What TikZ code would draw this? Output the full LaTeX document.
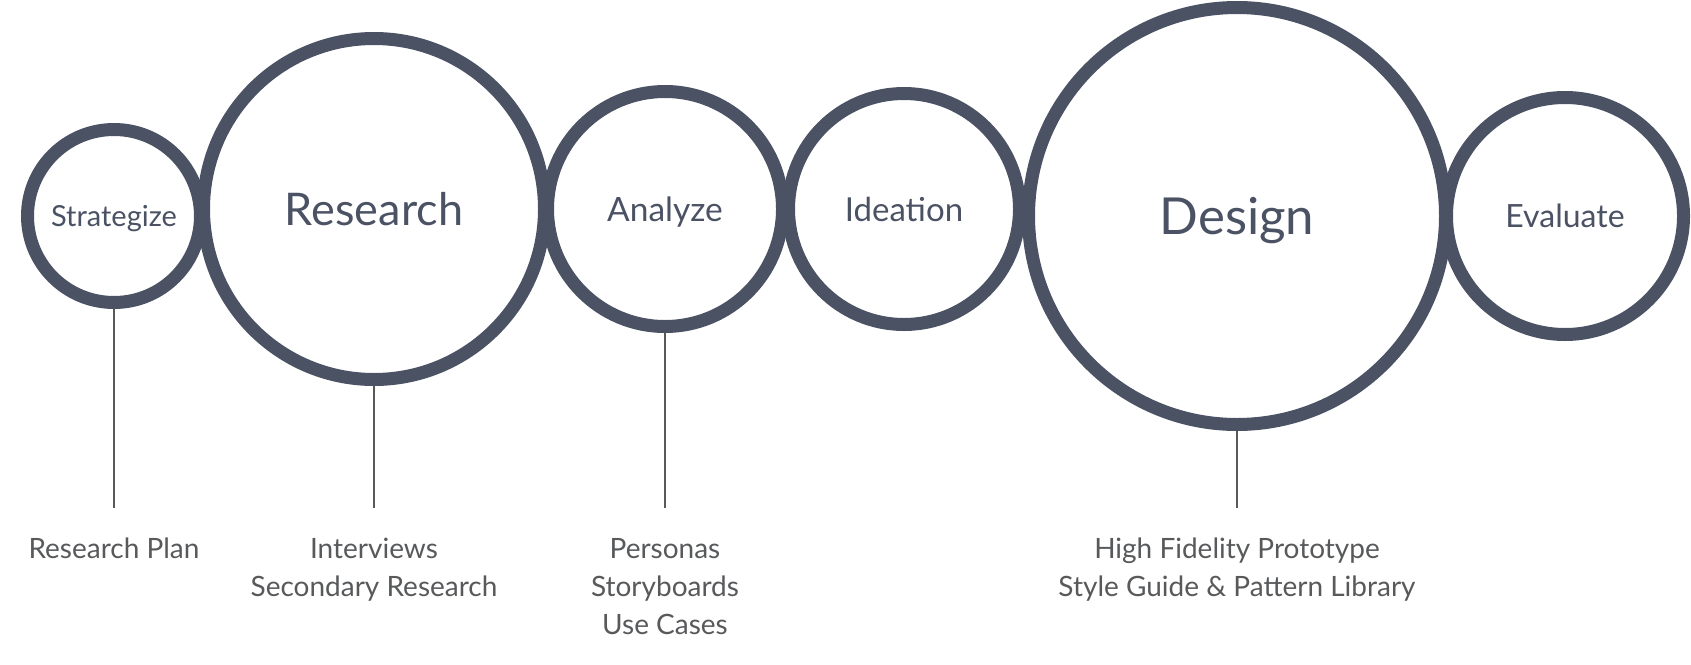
\documentclass[tikz,border=0pt]{standalone}
\usepackage{fontspec}
\setmainfont{Lato}
\usepackage{xcolor}
\usepackage{tikz}
\definecolor{slate}{HTML}{4B5264}
\definecolor{notegray}{HTML}{58595B}

\begin{document}
\begin{tikzpicture}[x=1pt, y=-1pt,
    stage/.style={circle, draw=slate, line width=13pt, inner sep=0pt, text=slate, text depth=0pt},
    note/.style={anchor=north, align=center, text=notegray, inner sep=0pt,
                 font=\fontsize{28}{38}\selectfont},
    lead/.style={draw=notegray, line width=1.5pt, shorten >=30pt}]
    \useasboundingbox (0, 0) rectangle (1691, 664);

    % the six stages
    \node[stage, minimum size=173pt, font=\fontsize{29}{34}\selectfont] (strat) at (114, 216) {Strategize};
    \node[stage, minimum size=341pt, font=\fontsize{45}{52}\selectfont] (research) at (374, 209) {Research};
    \node[stage, minimum size=235pt, font=\fontsize{33.5}{40}\selectfont] (analyze) at (665, 209) {Analyze};
    \node[stage, minimum size=231pt, font=\fontsize{33}{40}\selectfont] (ideation) at (904, 209) {Ideation};
    \node[stage, minimum size=417pt, font=\fontsize{51}{58}\selectfont] (design) at (1237, 216) {Design};
    \node[stage, minimum size=237pt, font=\fontsize{32}{38}\selectfont] (evaluate) at (1565, 216) {Evaluate};

    % deliverables
    \node[note] (plan) at (114, 538) {Research Plan};
    \node[note] (interviews) at (374, 538) {Interviews\\Secondary Research};
    \node[note] (personas) at (665, 538) {Personas\\Storyboards\\Use Cases};
    \node[note] (proto) at (1237, 538) {High Fidelity Prototype\\Style Guide \& Pattern Library};

    \draw[lead] (strat.south) -- (plan.north);
    \draw[lead] (research.south) -- (interviews.north);
    \draw[lead] (analyze.south) -- (personas.north);
    \draw[lead] (design.south) -- (proto.north);
\end{tikzpicture}
\end{document}
